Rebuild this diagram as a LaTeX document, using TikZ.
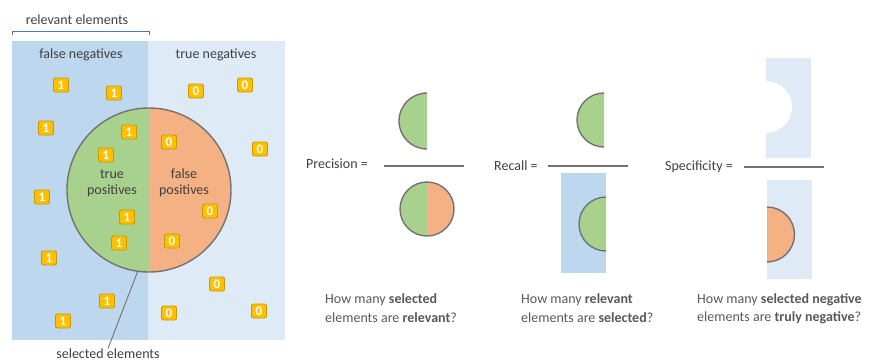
\documentclass[tikz,border=0pt]{standalone}
\usepackage{fontspec}
\setmainfont{Carlito}
\definecolor{relblue}{HTML}{BDD7EE}
\definecolor{negblue}{HTML}{DEEBF7}
\definecolor{tpgreen}{HTML}{A9D18E}
\definecolor{fporange}{HTML}{F4B183}
\definecolor{rimgray}{HTML}{757171}
\definecolor{badgefill}{HTML}{FFC000}
\definecolor{badgerim}{HTML}{C99A00}
\definecolor{labeltext}{HTML}{404040}
\definecolor{questtext}{HTML}{595959}
\definecolor{brackblue}{HTML}{4F74B8}
\tikzset{
  lbl/.style={text=labeltext, font=\fontsize{14}{16}\selectfont, inner sep=1pt},
  multilbl/.style={lbl, align=center, font=\fontsize{14}{16}\selectfont},
  quest/.style={text=questtext, font=\fontsize{14}{16}\selectfont, inner sep=0pt, anchor=west},
  badge/.style={fill=badgefill, draw=badgerim, line width=0.9pt, rounded corners=2pt,
    minimum width=15pt, minimum height=14pt, inner sep=0pt, text=white,
    font=\fontsize{13}{13}\selectfont\bfseries},
  rim/.style={draw=rimgray, line width=1.4pt},
  fracline/.style={draw=rimgray, line width=1.4pt},
}
\begin{document}
\begin{tikzpicture}[x=1pt,y=-1pt]
\useasboundingbox (0,0) rectangle (877,362);
% main panel
\fill[relblue] (12,41) rectangle (148,340);
\fill[negblue] (148,41) rectangle (285,340);
% bracket
\draw[brackblue, line width=0.9pt] (12,35) -- (12,31.5) -- (149,31.5) -- (149,35);
\node[lbl] (relel) at (77,20) {relevant elements};
\node[lbl] (fn) at (81,55) {false negatives};
\node[lbl] (tn) at (216,55) {true negatives};
% selected circle
\fill[tpgreen] (149,108) arc[start angle=90,end angle=270,radius=82pt] -- cycle;
\fill[fporange] (149,108) arc[start angle=90,end angle=-90,radius=82pt] -- cycle;
\node[circle, rim, minimum size=164pt, inner sep=0pt] (sel) at (149,190) {};
\node[multilbl] (tp) at (112,183) {true\\positives};
\node[multilbl] (fp) at (184,183) {false\\positives};
% badges
\node[badge] (b1) at (61,85) {1};
\node[badge] (b2) at (114,93) {1};
\node[badge] (b3) at (46,128) {1};
\node[badge] (b4) at (129,132) {1};
\node[badge] (b5) at (106,155) {1};
\node[badge] (b6) at (42,197) {1};
\node[badge] (b7) at (127,217) {1};
\node[badge] (b8) at (119,243) {1};
\node[badge] (b9) at (49,258) {1};
\node[badge] (b10) at (107,301) {1};
\node[badge] (b11) at (63,321) {1};
\node[badge] (b12) at (196,91) {0};
\node[badge] (b13) at (245,85) {0};
\node[badge] (b14) at (169,142) {0};
\node[badge] (b15) at (260,149) {0};
\node[badge] (b16) at (210,211) {0};
\node[badge] (b17) at (172,241) {0};
\node[badge] (b18) at (217,284) {0};
\node[badge] (b19) at (169,313) {0};
\node[badge] (b20) at (259,311) {0};
% selected elements label
\node[lbl, inner sep=0pt] (selel) at (108,353.5) {selected elements};
\draw[draw=rimgray, line width=0.9pt] (sel.262) -- (selel.north);
% Precision
\node[lbl, anchor=west] (prec) at (305,164) {Precision =};
\coordinate (pl1) at (384,166);
\coordinate (pr1) at (464,166);
\draw[fracline] (pl1) -- (pr1);
\fill[tpgreen] (427,93) arc[start angle=90,end angle=270,radius=28pt] -- cycle;
\draw[rim] (427,93) arc[start angle=90,end angle=270,radius=28pt];
\fill[tpgreen] (427,182) arc[start angle=90,end angle=270,radius=27pt] -- cycle;
\fill[fporange] (427,182) arc[start angle=90,end angle=-90,radius=27pt] -- cycle;
\node[circle, rim, minimum size=54pt, inner sep=0pt] (pc) at (427,209) {};
% Recall
\node[lbl, anchor=west] (rec) at (493,166) {Recall =};
\coordinate (pl2) at (548,166);
\coordinate (pr2) at (628,166);
\draw[fracline] (pl2) -- (pr2);
\fill[tpgreen] (604,93) arc[start angle=90,end angle=270,radius=27pt] -- cycle;
\draw[rim] (604,93) arc[start angle=90,end angle=270,radius=27pt];
\fill[relblue] (561,173) rectangle (606,273);
\fill[tpgreen] (606,197) arc[start angle=90,end angle=270,radius=27pt] -- cycle;
\draw[rim] (606,197) arc[start angle=90,end angle=270,radius=27pt];
% Specificity
\node[lbl, anchor=west] (spec) at (664,167) {Specificity =};
\coordinate (pl3) at (744,167);
\coordinate (pr3) at (824,167);
\draw[fracline] (pl3) -- (pr3);
\fill[negblue] (766,58) rectangle (811,158);
\fill[white] (766,81) arc[start angle=90,end angle=-90,radius=26pt] -- cycle;
\fill[negblue] (767,180) rectangle (812,279);
\fill[fporange] (767,207) arc[start angle=90,end angle=-90,radius=27.5pt] -- cycle;
\draw[rim] (767,207) arc[start angle=90,end angle=-90,radius=27.5pt];
% questions
\node[quest] (q1a) at (325,300) {How many \textbf{selected}};
\node[quest] (q1b) at (325,318) {elements are \textbf{relevant}?};
\node[quest] (q2a) at (521,300) {How many \textbf{relevant}};
\node[quest] (q2b) at (521,318) {elements are \textbf{selected}?};
\node[quest] (q3a) at (697,300) {How many \textbf{selected negative}};
\node[quest] (q3b) at (697,318) {elements are \textbf{truly negative}?};
\end{tikzpicture}
\end{document}
